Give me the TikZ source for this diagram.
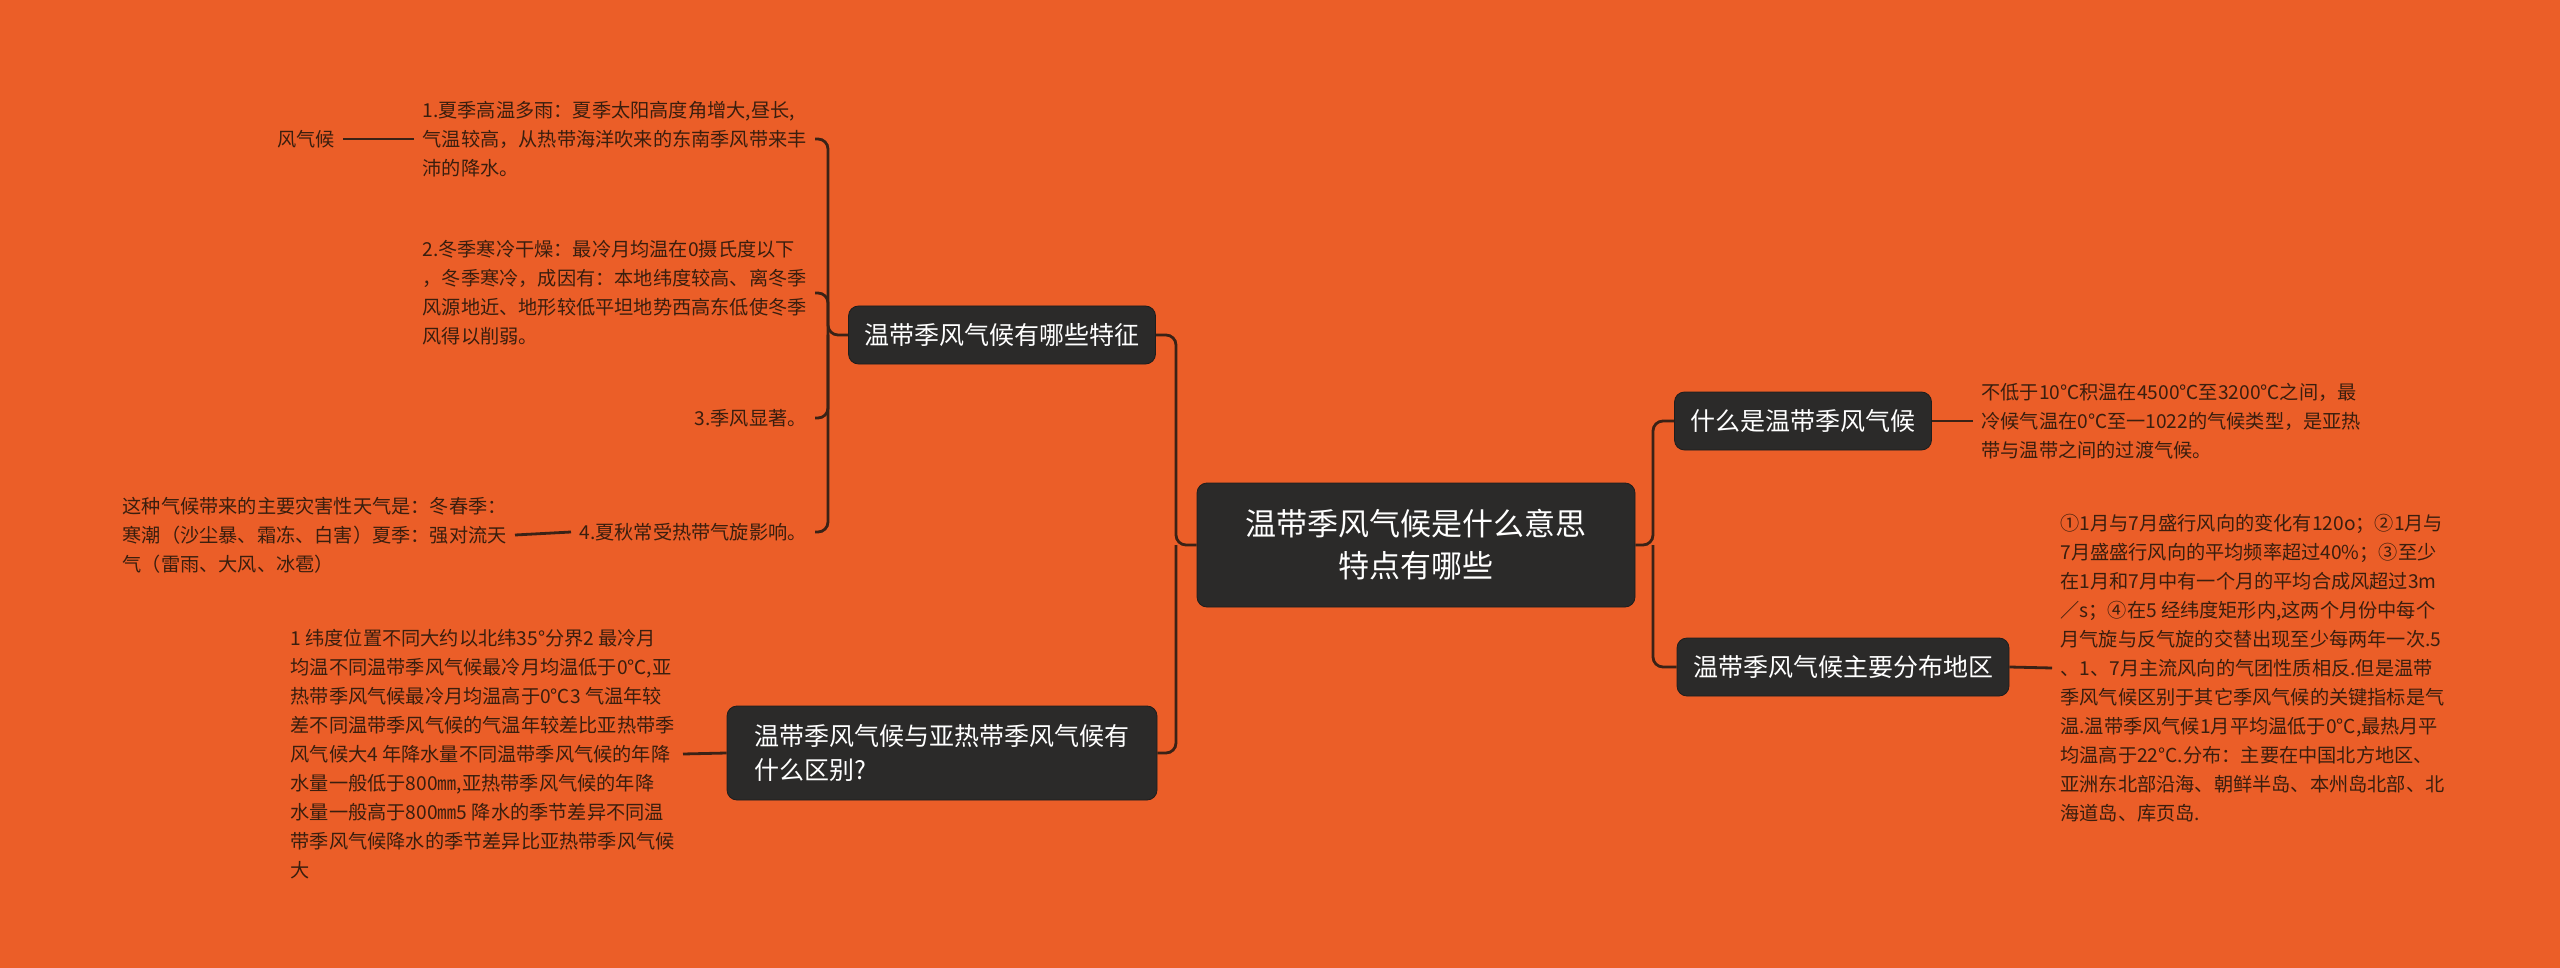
\documentclass[tikz,border=0pt]{standalone}
\usepackage{fontspec}
\setmainfont{Noto Sans CJK SC}
\usetikzlibrary{positioning}
\definecolor{bgorange}{HTML}{EB5E28}
\definecolor{boxdark}{HTML}{2B2A29}
\definecolor{linedark}{HTML}{3A2216}
\definecolor{leaftext}{HTML}{3A1E0E}
\tikzset{
  topic/.style={fill=boxdark, draw=boxdark!70!black, rounded corners=5pt, text=white, inner xsep=8pt, inner ysep=5pt, font=\fontsize{12.5}{17}\selectfont, align=left},
  leaf/.style={text=leaftext, inner sep=4pt, font=\fontsize{9.6}{14.5}\selectfont},
  link/.style={draw=linedark, line width=1.4pt, rounded corners=5pt},
}
\begin{document}
\begin{tikzpicture}[x=0.5pt,y=-0.5pt]
	\useasboundingbox[fill=bgorange] (0,0) rectangle (2560,968);
	% centre
	\node[topic, font=\fontsize{15.5}{21}\selectfont, align=center, minimum width=219pt, minimum height=62pt] (root) at (1416,545) {温带季风气候是什么意思\\特点有哪些};
	% branches
	\node[topic, minimum height=29pt] (feat) at (1002,335) {温带季风气候有哪些特征};
	\node[topic, minimum width=215pt, minimum height=47pt] (diff) at (942,753) {温带季风气候与亚热带季风气候有\\什么区别?};
	\node[topic, minimum height=29pt] (what) at (1803,421) {什么是温带季风气候};
	\node[topic, minimum height=29pt] (area) at (1843,667) {温带季风气候主要分布地区};
	% leaves of feat
	\node[leaf, anchor=east, align=left] (f1) at (815,139) {1.夏季高温多雨：夏季太阳高度角增大,昼长,\\气温较高，从热带海洋吹来的东南季风带来丰\\沛的降水。};
	\node[leaf, anchor=east, align=left] (f2) at (815,293) {2.冬季寒冷干燥：最冷月均温在0摄氏度以下\\，冬季寒冷，成因有：本地纬度较高、离冬季\\风源地近、地形较低平坦地势西高东低使冬季\\风得以削弱。};
	\node[leaf, anchor=east] (f3) at (815,418) {3.季风显著。};
	\node[leaf, anchor=east] (f4) at (815,532) {4.夏秋常受热带气旋影响。};
	\node[leaf, anchor=east] (f1a) at (343,139) {风气候};
	\node[leaf, anchor=east, align=left] (f4a) at (515,535) {这种气候带来的主要灾害性天气是：冬春季：\\寒潮（沙尘暴、霜冻、白害）夏季：强对流天\\气（雷雨、大风、冰雹）};
	% leaf of diff
	\node[leaf, anchor=east, align=left] (d1) at (683,754) {1 纬度位置不同大约以北纬35°分界2 最冷月\\均温不同温带季风气候最冷月均温低于0℃,亚\\热带季风气候最冷月均温高于0℃3 气温年较\\差不同温带季风气候的气温年较差比亚热带季\\风气候大4 年降水量不同温带季风气候的年降\\水量一般低于800㎜,亚热带季风气候的年降\\水量一般高于800㎜5 降水的季节差异不同温\\带季风气候降水的季节差异比亚热带季风气候\\大};
	% leaves of right side
	\node[leaf, anchor=west, align=left] (w1) at (1973,421) {不低于10℃积温在4500℃至3200℃之间，最\\冷候气温在0℃至一1022的气候类型，是亚热\\带与温带之间的过渡气候。};
	\node[leaf, anchor=west, align=left] (a1) at (2052,668) {①1月与7月盛行风向的变化有120o；②1月与\\7月盛盛行风向的平均频率超过40\%；③至少\\在1月和7月中有一个月的平均合成风超过3m\\／s；④在5 经纬度矩形内,这两个月份中每个\\月气旋与反气旋的交替出现至少每两年一次.5\\、1、7月主流风向的气团性质相反.但是温带\\季风气候区别于其它季风气候的关键指标是气\\温.温带季风气候1月平均温低于0°C,最热月平\\均温高于22°C.分布：主要在中国北方地区、\\亚洲东北部沿海、朝鲜半岛、本州岛北部、北\\海道岛、库页岛.};
	% joints
	\coordinate (jl) at (1176,545);
	\coordinate (jr) at (1653,545);
	\coordinate (jf) at (828,335);
	% connectors
	\draw[link] (root.west) -- (jl) |- (feat.east);
	\draw[link] (jl) |- (diff.east);
	\draw[link] (root.east) -- (jr) |- (what.west);
	\draw[link] (jr) |- (area.west);
	\draw[link] (feat.west) -- (jf) |- (f1.east);
	\draw[link] (jf) |- (f2.east);
	\draw[link] (jf) |- (f3.east);
	\draw[link] (jf) |- (f4.east);
	\draw[link] (f1.west) -- (f1a.east);
	\draw[link] (f4.west) -- (f4a.east);
	\draw[link] (diff.west) -- (d1.east);
	\draw[link] (what.east) -- (w1.west);
	\draw[link] (area.east) -- (a1.west);
\end{tikzpicture}
\end{document}
